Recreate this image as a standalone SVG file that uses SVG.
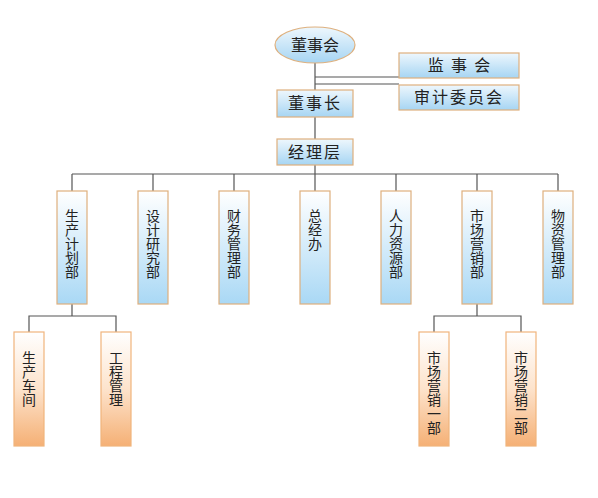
<svg xmlns="http://www.w3.org/2000/svg" width="598" height="498" viewBox="0 0 598 498">
<defs>
<linearGradient id="gb" x1="0" y1="0" x2="0" y2="1">
<stop offset="0" stop-color="#ffffff"/>
<stop offset="1" stop-color="#a9d8f5"/>
</linearGradient>
<linearGradient id="gbh" x1="0" y1="0" x2="0" y2="1">
<stop offset="0" stop-color="#eef7fd"/>
<stop offset="1" stop-color="#a6d5f3"/>
</linearGradient>
<linearGradient id="go" x1="0" y1="0" x2="0" y2="1">
<stop offset="0" stop-color="#ffffff"/>
<stop offset="0.5" stop-color="#fde3cc"/>
<stop offset="1" stop-color="#f5b075"/>
</linearGradient>
<style>
.b{fill:url(#gb);stroke:#deb07e;stroke-width:1.2}
.bh{fill:url(#gbh);stroke:#deb07e;stroke-width:1.2}
.o{fill:url(#go);stroke:#f0b47c;stroke-width:1.2}
.t{font-family:"Noto Sans CJK SC","Noto Sans CJK JP",sans-serif;font-size:14px;fill:#222;writing-mode:vertical-rl;text-orientation:upright}
.th{font-family:"Noto Sans CJK SC","Noto Sans CJK JP",sans-serif;font-size:16px;fill:#222;text-anchor:middle}
.c{fill:none;stroke:#555;stroke-width:1.2}
</style>
</defs>
<g id="connectors">
<path class="c" d="M315,63 V139 M315,77 H399 M315,84 H399 M315,165 V174 M72,174 H558 M72,174 V191 M153,174 V191 M234,174 V191 M315,174 V191 M396,174 V191 M477,174 V191 M558,174 V191 M72,304 V316 M29,332 V316 H116 V332 M477,304 V316 M434,332 V316 H521 V332"/>
</g>
<g id="n-dongshihui"><ellipse cx="315" cy="45" rx="40" ry="18" class="bh"/><text class="th" x="315" y="51">董事会</text></g>
<g id="n-jianshihui"><rect x="399" y="53" width="120" height="25" class="bh"/><text class="th" x="459" y="71" xml:space="preserve">监  事  会</text></g>
<g id="n-shenji"><rect x="399" y="85" width="120" height="25" class="bh"/><text class="th" x="459" y="103" letter-spacing="2">审计委员会</text></g>
<g id="n-dongshizhang"><rect x="277" y="90" width="76" height="27" class="bh"/><text class="th" x="315" y="109" letter-spacing="2">董事长</text></g>
<g id="n-jingli"><rect x="277" y="139" width="76" height="26" class="bh"/><text class="th" x="315" y="158" letter-spacing="2">经理层</text></g>
<g id="d1"><rect x="57" y="191" width="30" height="113" class="b"/><text class="t" x="72" y="209">生产计划部</text></g>
<g id="d2"><rect x="138" y="191" width="30" height="113" class="b"/><text class="t" x="153" y="209">设计研究部</text></g>
<g id="d3"><rect x="219" y="191" width="30" height="113" class="b"/><text class="t" x="234" y="209">财务管理部</text></g>
<g id="d4"><rect x="300" y="191" width="30" height="113" class="b"/><text class="t" x="315" y="209">总经办</text></g>
<g id="d5"><rect x="381" y="191" width="30" height="113" class="b"/><text class="t" x="396" y="209">人力资源部</text></g>
<g id="d6"><rect x="462" y="191" width="30" height="113" class="b"/><text class="t" x="477" y="209">市场营销部</text></g>
<g id="d7"><rect x="543" y="191" width="30" height="113" class="b"/><text class="t" x="558" y="209">物资管理部</text></g>
<g id="s1"><rect x="14" y="332" width="30" height="114" class="o"/><text class="t" x="29" y="351">生产车间</text></g>
<g id="s2"><rect x="101" y="332" width="30" height="114" class="o"/><text class="t" x="116" y="351">工程管理</text></g>
<g id="s3"><rect x="419" y="332" width="30" height="114" class="o"/><text class="t" x="434" y="351">市场营销一部</text></g>
<g id="s4"><rect x="506" y="332" width="30" height="114" class="o"/><text class="t" x="521" y="351">市场营销二部</text></g>
</svg>
